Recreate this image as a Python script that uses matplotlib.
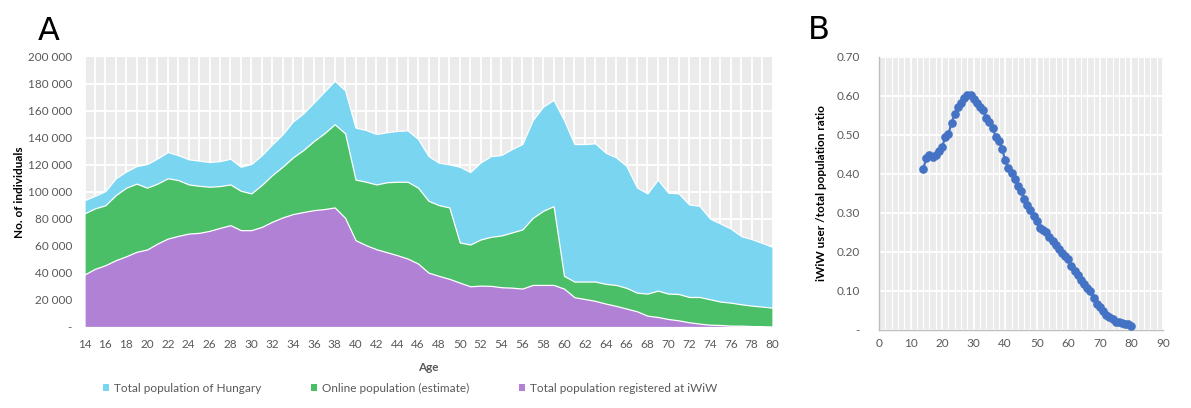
import matplotlib
matplotlib.use("Agg")
import matplotlib.pyplot as plt
from matplotlib.patches import Patch
from matplotlib.ticker import FuncFormatter, MultipleLocator

plt.rcParams['font.family'] = ['Lato', 'DejaVu Sans']

ages = list(range(14, 81))

total_pop = [93.8, 97, 100.5, 110, 115, 119, 120.5, 124.7, 129.4, 127, 124, 123, 122, 122.7, 124.4,
             118.5, 120.5, 127, 135, 142.5, 152, 158, 166, 174, 182, 175, 147.4, 145.7, 142.7, 144,
             145, 145.4, 139, 126.4, 121.5, 120.2, 118.5, 114.6, 121.7, 126.4, 127.2, 131.6, 135.3,
             153, 163, 167.9, 153, 135.3, 135.3, 135.8, 128.9, 125.4, 119, 103.2, 98.8, 109, 99.3,
             98.8, 90.6, 89.6, 80.2, 76.5, 72.8, 67.2, 65, 62.2, 59.3]
online_pop = [84, 87.7, 90, 97.5, 103, 106, 103, 106, 110, 108.6, 105.4, 104.4, 103.7, 104.2, 105.4,
              100.7, 98.8, 105, 112.3, 118.5, 125.4, 130.9, 137.5, 143.2, 149.9, 143.2, 109, 107.4,
              105.4, 107, 107.4, 107.4, 103, 93.3, 90.1, 88.4, 62.5, 61, 64.7, 66.7, 67.7, 69.9, 72.1,
              80.7, 85.9, 89.4, 37.8, 33.6, 33.6, 33.6, 31.9, 31.1, 28.9, 25.4, 24.7, 26.9, 24.7, 24.4,
              22.2, 22.2, 20.5, 18.8, 18, 16.8, 15.8, 15.1, 14.3]
iwiw_pop = [38.8, 43, 45.7, 49.4, 52.3, 55.6, 57.3, 61.7, 65.4, 67.4, 69.1, 69.6, 71.1, 73.3, 75.3,
            71.6, 71.6, 74, 77.8, 81, 83.5, 85, 86.4, 87.2, 88.4, 80.7, 64.2, 60.5, 57.5, 55.3, 53.1,
            50.6, 46.9, 40.2, 37.8, 35.6, 32.8, 30.1, 30.6, 30.4, 29.4, 29.1, 28.4, 31.1, 31.1, 31.1,
            28.4, 22, 20.7, 19.3, 17.3, 15.6, 13.6, 11.6, 8.4, 7.4, 5.9, 4.9, 3.5, 2.5, 1.7, 1.5, 1,
            1, 0.7, 0.5, 0.2]
ratio = [0.4125, 0.44, 0.448, 0.442, 0.448, 0.459, 0.469, 0.493, 0.502, 0.53, 0.553, 0.57, 0.581,
         0.594, 0.602, 0.602, 0.591, 0.581, 0.572, 0.564, 0.543, 0.532, 0.517, 0.495, 0.485, 0.464,
         0.434, 0.415, 0.402, 0.387, 0.368, 0.356, 0.336, 0.319, 0.306, 0.293, 0.278, 0.262, 0.257,
         0.251, 0.238, 0.228, 0.217, 0.208, 0.196, 0.189, 0.181, 0.163, 0.151, 0.142, 0.129, 0.119,
         0.108, 0.0995, 0.081, 0.0655, 0.058, 0.049, 0.038, 0.032, 0.028, 0.021, 0.0196, 0.017,
         0.016, 0.0145, 0.011]

series_labels = ["Total population of Hungary", "Online population (estimate)",
                 "Total population registered at iWiW"]
colors = ["#7AD5F1", "#4BBF67", "#B081D5"]

W, H = 1191, 408
fig = plt.figure(figsize=(W / 100, H / 100), dpi=100)

def ax_rect(l, t, r, b):
    return [l / W, 1 - b / H, (r - l) / W, (b - t) / H]

tick_col = "#595959"
bg = "#EBEBEB"

# Panel A
axA = fig.add_axes(ax_rect(84.5, 56.5, 772.5, 327))
axA.set_facecolor(bg)
for vals, c in zip([total_pop, online_pop, iwiw_pop], colors):
    axA.fill_between(ages, [v * 1000 for v in vals], 0, facecolor=c, edgecolor="white",
                     linewidth=0.9, zorder=3)
axA.set_xlim(14, 80)
axA.set_ylim(0, 200000)
axA.set_xticks(range(14, 81, 2))
axA.xaxis.set_minor_locator(MultipleLocator(1))
axA.set_yticks(range(0, 200001, 20000))
axA.yaxis.set_major_formatter(FuncFormatter(
    lambda v, p: "-" if v == 0 else f"{int(v):,}".replace(",", " ")))
axA.grid(True, which="both", axis="x", color="white", linewidth=1.3, zorder=1)
axA.grid(True, which="major", axis="y", color="white", linewidth=1.3, zorder=1)
axA.set_axisbelow(True)
for s in axA.spines.values():
    s.set_visible(False)
axA.tick_params(which="both", length=0, colors=tick_col, labelsize=8.5)
axA.tick_params(axis="y", pad=9)
axA.tick_params(axis="x", pad=9)
axA.set_xlabel("Age", color=tick_col, fontsize=8.5, fontweight="bold")
axA.xaxis.set_label_coords((428.5 - 84.5) / (772.5 - 84.5), -(362 - 327) / (327 - 56.5))
axA.set_ylabel("No. of individuals", fontsize=8.5, fontweight="bold")
axA.yaxis.set_label_coords(-(84.5 - 25) / (772.5 - 84.5), 0.5)

handles = [Patch(facecolor=c, edgecolor="none") for c in colors]
fig.legend(handles, series_labels, loc="center", bbox_to_anchor=(410 / W, 1 - 388 / H),
           ncol=3, frameon=False, fontsize=8.5, labelcolor=tick_col,
           handlelength=0.55, handleheight=0.55, handletextpad=0.4, columnspacing=4.2)

fig.text(38 / W, 1 - 40 / H, "A", fontsize=23, family=["DejaVu Sans"], va="baseline")

# Panel B
axB = fig.add_axes(ax_rect(879, 56.5, 1163, 330))
axB.set_facecolor(bg)
axB.plot(ages, ratio, color="#4472C4", linewidth=1.6, marker="o", markersize=5.2, zorder=3)
axB.set_xlim(0, 90)
axB.set_ylim(0, 0.7)
axB.set_xticks(range(0, 91, 10))
axB.xaxis.set_minor_locator(MultipleLocator(2))
axB.set_yticks([i / 10 for i in range(8)])
axB.yaxis.set_major_formatter(FuncFormatter(lambda v, p: "-" if abs(v) < 1e-9 else f"{v:.2f}"))
axB.grid(True, which="minor", axis="x", color="white", linewidth=0.8, zorder=1)
axB.grid(True, which="major", axis="both", color="white", linewidth=1.3, zorder=1)
axB.set_axisbelow(True)
for k in ["top", "right"]:
    axB.spines[k].set_visible(False)
for k in ["left", "bottom"]:
    axB.spines[k].set_color("#BFBFBF")
    axB.spines[k].set_linewidth(1)
axB.tick_params(which="both", length=0, colors=tick_col, labelsize=8.5)
axB.tick_params(axis="y", pad=14)
axB.tick_params(axis="x", pad=6)
axB.set_ylabel("iWiW user /total population ratio", fontsize=8.5, fontweight="bold")
axB.yaxis.set_label_coords(-(879 - 827) / (1163 - 879), 0.5)

fig.text(808 / W, 1 - 39 / H, "B", fontsize=23, family=["DejaVu Sans"], va="baseline")

fig.savefig("out.png", dpi=100)
